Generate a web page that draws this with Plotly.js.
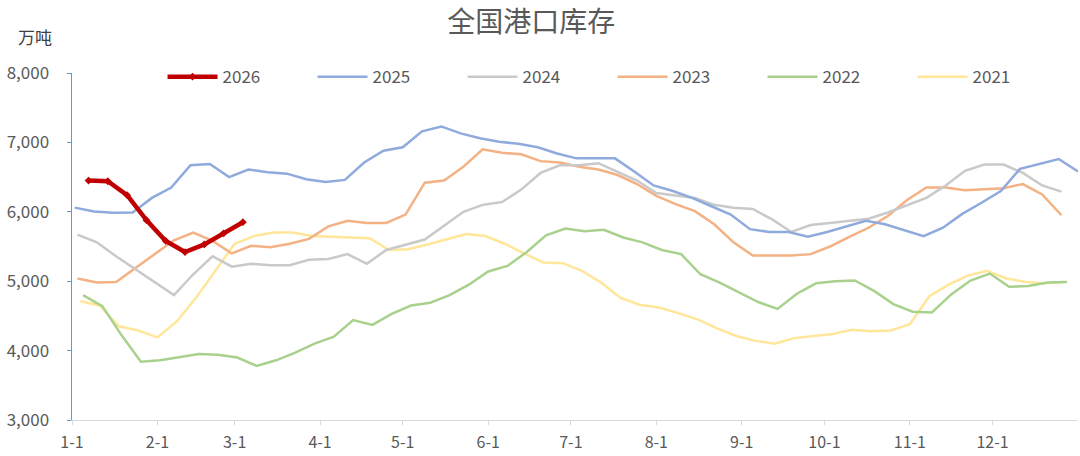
<!DOCTYPE html>
<html>
    <head>
        <meta charset="utf-8">
        <script src="https://cdn.plot.ly/plotly-3.0.1.min.js"></script>
        <style>
            body { margin: 0; background: #fff; }
        </style>
    </head>
    <body>
        <div id="plot" style="width:1080px;height:456px;"></div>
        <script type="text/javascript">
            // month ticks, x is day of year
            var monthDays = [0, 31, 59, 90, 120, 151, 181, 212, 243, 273, 304, 334];
            var monthLabels = ['1-1', '2-1', '3-1', '4-1', '5-1', '6-1', '7-1', '8-1', '9-1', '10-1', '11-1', '12-1'];

            // weekly readings, first week day for each year
            var start2026 = 6, start2025 = 1, start2024 = 2, start2023 = 2, start2022 = 4, start2021 = 3;

            var v2026 = [6450, 6440, 6240, 5880, 5580, 5420, 5530, 5690, 5850];
            var v2025 = [6060, 6005, 5985, 5990, 6200, 6350, 6670, 6690, 6500, 6610, 6570, 6550, 6470,
                         6430, 6460, 6710, 6880, 6930, 7160, 7230, 7130, 7060, 7010, 6980, 6930, 6840,
                         6770, 6770, 6770, 6580, 6380, 6300, 6200, 6080, 5960, 5750, 5710, 5710, 5640,
                         5710, 5790, 5870, 5820, 5730, 5650, 5770, 5970, 6130, 6300, 6620, 6690, 6760, 6580];
            var v2024 = [5670, 5560, 5360, 5170, 4990, 4800, 5100, 5360, 5210, 5250, 5230, 5230, 5310,
                         5320, 5390, 5250, 5450, 5530, 5600, 5800, 6000, 6100, 6140, 6320, 6560, 6670,
                         6670, 6700, 6570, 6450, 6270, 6230, 6200, 6100, 6060, 6040, 5890, 5710, 5810,
                         5840, 5870, 5900, 5990, 6090, 6200, 6380, 6590, 6680, 6680, 6560, 6380, 6290];
            var v2023 = [5040, 4980, 4990, 5190, 5400, 5590, 5700, 5580, 5400, 5510, 5490, 5540, 5610,
                         5790, 5870, 5840, 5840, 5960, 6420, 6450, 6650, 6900, 6850, 6830, 6730, 6710,
                         6650, 6610, 6530, 6400, 6230, 6110, 6010, 5820, 5560, 5370, 5370, 5370, 5390,
                         5500, 5640, 5770, 5940, 6170, 6350, 6350, 6310, 6330, 6340, 6400, 6250, 5950];
            var v2022 = [4800, 4640, 4220, 3840, 3860, 3900, 3950, 3940, 3900, 3780, 3860, 3970, 4100,
                         4200, 4440, 4370, 4530, 4650, 4690, 4800, 4950, 5140, 5220, 5420, 5660, 5760,
                         5720, 5740, 5630, 5560, 5450, 5390, 5100, 4980, 4840, 4700, 4600, 4820, 4970,
                         5000, 5010, 4860, 4670, 4560, 4550, 4810, 5010, 5110, 4920, 4930, 4980, 4990];
            var v2021 = [4710, 4650, 4350, 4290, 4190, 4420, 4760, 5150, 5540, 5650, 5700, 5700, 5650,
                         5640, 5630, 5620, 5450, 5460, 5530, 5610, 5680, 5650, 5540, 5400, 5270, 5260,
                         5150, 4980, 4760, 4660, 4620, 4540, 4450, 4320, 4210, 4140, 4100, 4180, 4210,
                         4240, 4300, 4280, 4290, 4380, 4780, 4950, 5080, 5150, 5040, 4990, 4970, 4990];

            function weeks(start, vals) {
                return vals.map(function (v, i) { return start + 7 * i; });
            }

            function line(name, start, vals, color, width, rank) {
                return {
                    x: weeks(start, vals), y: vals, name: name, mode: 'lines',
                    line: {color: color, width: width}, legendrank: rank,
                    hoverinfo: 'skip'
                };
            }

            var red = line('2026', start2026, v2026, '#c00000', 4.5, 1);
            red.mode = 'lines+markers';
            red.marker = {color: '#c00000', size: 6, symbol: 'diamond'};

            var data = [
                line('2021', start2021, v2021, '#ffe699', 2.5, 6),
                line('2022', start2022, v2022, '#a9d18e', 2.5, 5),
                line('2023', start2023, v2023, '#f4b183', 2.5, 4),
                line('2024', start2024, v2024, '#c9c9c9', 2.5, 3),
                line('2025', start2025, v2025, '#8faadc', 2.5, 2),
                red
            ];

            var font = 'Noto Sans CJK SC, sans-serif';
            var layout = {
                width: 1080, height: 456,
                margin: {l: 72, r: 2, t: 73, b: 36},
                paper_bgcolor: '#fff', plot_bgcolor: '#fff',
                font: {family: font, color: '#595959', size: 17},
                title: {text: '全国港口库存', x: 0.492, xanchor: 'center', y: 0.952, yanchor: 'middle',
                        font: {family: font, size: 28, color: '#595959'}},
                showlegend: true,
                legend: {orientation: 'h', x: 0.09, xanchor: 'left', y: 0.988, yanchor: 'middle',
                         bgcolor: 'rgba(0,0,0,0)', entrywidth: 85, entrywidthmode: 'pixels',
                         itemwidth: 50,
                         font: {family: font, size: 17, color: '#595959'}},
                xaxis: {
                    range: [0, 365], tickmode: 'array', tickvals: monthDays, ticktext: monthLabels,
                    showgrid: false, zeroline: false, showline: true, linecolor: '#d9d9d9', linewidth: 1,
                    ticks: 'outside', ticklen: 4, tickcolor: '#d9d9d9', ticklabelstandoff: 4,
                    tickfont: {size: 16}, fixedrange: true
                },
                yaxis: {
                    range: [3000, 8000], dtick: 1000, tickformat: ',d',
                    showgrid: false, zeroline: false, showline: true, linecolor: '#5b9bd5', linewidth: 1.5,
                    ticks: 'outside', ticklen: 4, tickcolor: '#5b9bd5', ticklabelstandoff: 14,
                    tickfont: {size: 17}, fixedrange: true
                },
                annotations: [{
                    text: '万吨', xref: 'paper', yref: 'paper', x: -0.056, y: 1.104,
                    xanchor: 'left', yanchor: 'middle', showarrow: false,
                    font: {family: font, size: 17, color: '#404040'}
                }]
            };

            Plotly.newPlot('plot', data, layout, {staticPlot: true});
        </script>
    </body>
</html>
